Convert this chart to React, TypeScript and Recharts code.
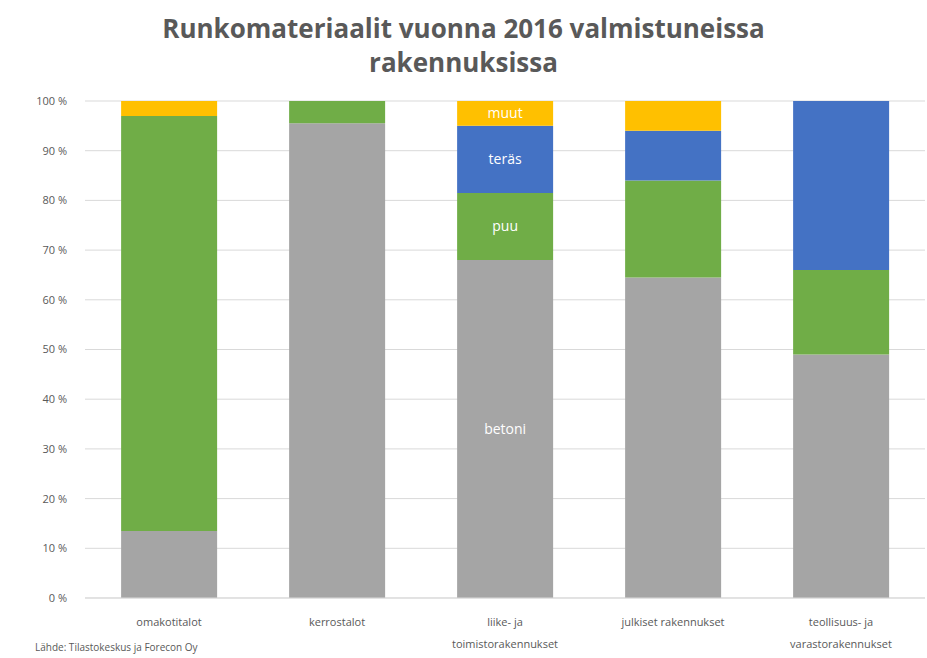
import React from "react";
import {
  BarChart,
  Bar,
  XAxis,
  YAxis,
  CartesianGrid,
  LabelList,
} from "recharts";

const categories = [
  "omakotitalot",
  "kerrostalot",
  "liike- ja\ntoimistorakennukset",
  "julkiset rakennukset",
  "teollisuus- ja\nvarastorakennukset",
];
const betoni = [13.5, 95.5, 68, 64.5, 49];
const puu = [83.5, 4.5, 13.5, 19.5, 17];
const teras = [0, 0, 13.5, 10, 34];
const muut = [3, 0, 5, 6, 0];
// the series names are written inside the third column only
const labelColumn = [false, false, true, false, false];
const yTicks = [0, 10, 20, 30, 40, 50, 60, 70, 80, 90, 100];

const data = categories.map((name, i) => ({
  name,
  betoni: betoni[i],
  puu: puu[i],
  teräs: teras[i],
  muut: muut[i],
  lBetoni: labelColumn[i] ? "betoni" : "",
  lPuu: labelColumn[i] ? "puu" : "",
  lTeras: labelColumn[i] ? "teräs" : "",
  lMuut: labelColumn[i] ? "muut" : "",
}));

const font = "'Open Sans', sans-serif";

const XTick = (props: any) => {
  const { x, y, payload } = props;
  const lines = String(payload.value).split("\n");
  return (
    <g transform={`translate(${x},${y})`}>
      {lines.map((l, i) => (
        <text
          key={i}
          x={0}
          y={20 + i * 22}
          textAnchor="middle"
          fill="#595959"
          fontSize={11}
          fontFamily={font}
        >
          {l}
        </text>
      ))}
    </g>
  );
};

const Inside = (props: any) => {
  const { x, y, width, height, value } = props;
  if (!value) return null;
  return (
    <text
      x={x + width / 2}
      y={y + height / 2 + 5}
      textAnchor="middle"
      fill="#fff"
      fontSize={14}
      fontFamily={font}
    >
      {value}
    </text>
  );
};

export default function App() {
  return (
    <div style={{ position: "absolute", left: 0, top: 0, width: 927, height: 658, background: "#fff" }}>
      <div
        style={{
          position: "absolute",
          left: 0,
          top: 11,
          width: 927,
          textAlign: "center",
          fontFamily: font,
          fontWeight: 700,
          fontSize: 26,
          lineHeight: "34px",
          color: "#595959",
        }}
      >
        Runkomateriaalit vuonna 2016 valmistuneissa
        <br />
        rakennuksissa
      </div>
      <BarChart
        width={927}
        height={658}
        data={data}
        margin={{ top: 101, right: 2, left: 0, bottom: 0 }}
        barCategoryGap="21.5%"
      >
        <CartesianGrid vertical={false} stroke="#D9D9D9" />
        <XAxis
          dataKey="name"
          tick={<XTick />}
          tickLine={false}
          axisLine={{ stroke: "#D9D9D9" }}
          height={60}
          interval={0}
        />
        <YAxis
          domain={[0, 100]}
          ticks={yTicks}
          tickFormatter={(v: number) => `${v} %`}
          tick={{ fill: "#595959", fontSize: 11, fontFamily: font }}
          tickLine={false}
          axisLine={false}
          width={85}
          tickMargin={12}
        />
        <Bar dataKey="betoni" stackId="a" fill="#A5A5A5" isAnimationActive={false}>
          <LabelList dataKey="lBetoni" content={<Inside />} />
        </Bar>
        <Bar dataKey="puu" stackId="a" fill="#70AD47" isAnimationActive={false}>
          <LabelList dataKey="lPuu" content={<Inside />} />
        </Bar>
        <Bar dataKey="teräs" stackId="a" fill="#4472C4" isAnimationActive={false}>
          <LabelList dataKey="lTeras" content={<Inside />} />
        </Bar>
        <Bar dataKey="muut" stackId="a" fill="#FFC000" isAnimationActive={false}>
          <LabelList dataKey="lMuut" content={<Inside />} />
        </Bar>
      </BarChart>
      <div
        style={{
          position: "absolute",
          left: 35,
          top: 640,
          fontFamily: font,
          fontSize: 10,
          color: "#595959",
        }}
      >
        Lähde: Tilastokeskus ja Forecon Oy
      </div>
    </div>
  );
}
